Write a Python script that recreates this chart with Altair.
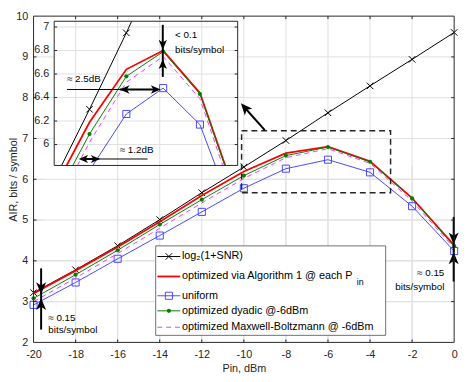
import altair as alt
import pandas as pd

FONT = "Liberation Sans"
INK = "#262626"
GRID = "#dfdfdf"

# ---------------- data ----------------
pin = [-20, -18, -16, -14, -12, -10, -8, -6, -4, -2, 0]
air_shannon = [3.22, 3.78, 4.37, 5.01, 5.67, 6.30, 6.95, 7.63, 8.29, 8.94, 9.60]
air_alg1 = [3.20, 3.76, 4.34, 4.96, 5.60, 6.19, 6.64, 6.80, 6.44, 5.54, 4.38]
air_uniform = [2.92, 3.47, 4.05, 4.62, 5.20, 5.78, 6.26, 6.48, 6.17, 5.34, 4.24]
air_dyadic = [3.08, 3.66, 4.26, 4.89, 5.50, 6.09, 6.58, 6.79, 6.43, 5.53, 4.36]
air_mb = [3.00, 3.58, 4.18, 4.80, 5.42, 6.02, 6.53, 6.75, 6.39, 5.47, 4.31]

series_keys = ["shannon", "alg1", "uniform", "dyadic", "mb"]
series_air = [air_shannon, air_alg1, air_uniform, air_dyadic, air_mb]
series_labels = ["log\u2082(1+SNR)", "optimized via Algorithm 1 @ each P", "uniform",
                 "optimized dyadic @-6dBm", "optimized Maxwell-Boltzmann @ -6dBm"]
label_subscript = "in"
series_colors = ["#000000", "#ff0000", "#4747ff", "#008000", "#ff33ff"]
series_widths = [1.0, 1.8, 1.0, 1.0, 1.0]
series_marker = ["x", None, "square", "dot", None]
series_inset_max = [-6, -2, -2, -2, -2]
series_inset_marker_max = [-8, -4, -4, -4, -4]

x_ticks = list(range(-20, 1, 2))
y_ticks = list(range(2, 11))
inset_y_ticks = [6.0, 6.2, 6.4, 6.6, 6.8, 7.0]
inset_y_labels = ["6", "6.2", "6.4", "6.6", "6.8", "7"]
inset_x_domain = [-11.92, -1.95]
inset_y_domain = [5.822, 7.049]
inset_pin_min = -12
inset_marker_min = -10

rows = []
for k, vals in zip(series_keys, series_air):
    for p, v in zip(pin, vals):
        rows.append({"series": k, "pin": p, "air": v})
df = pd.DataFrame(rows)

# ---------------- layout helpers ----------------
W, H = 428, 332            # rendered plot area
REF_W, REF_H = 428, 338    # plot area in the reference picture (origin 34, 7)
X_DOM = [-20, 0]
Y_DOM = [2, 10]
PX = (X_DOM[1] - X_DOM[0]) / W   # data units per rendered pixel
PY = (Y_DOM[1] - Y_DOM[0]) / H


def mx(px):
    return X_DOM[0] + (px - 34) * (X_DOM[1] - X_DOM[0]) / REF_W


def my(py):
    return Y_DOM[1] - (py - 7) * (Y_DOM[1] - Y_DOM[0]) / REF_H


BX0, BX1 = mx(55), mx(241.7)
BYT, BYB = my(12.3), my(161.7)
KX = (BX1 - BX0) / (inset_x_domain[1] - inset_x_domain[0])
KY = (BYT - BYB) / (inset_y_domain[1] - inset_y_domain[0])


def iy(v):
    return BYB + (v - inset_y_domain[0]) * KY


XS = alt.Scale(domain=X_DOM, nice=False, zero=False)
YS = alt.Scale(domain=Y_DOM, nice=False, zero=False)


def ex(f):
    return alt.X(f + ":Q", scale=XS, axis=None)


def ey(f):
    return alt.Y(f + ":Q", scale=YS, axis=None)


def seg(rws):
    return pd.DataFrame(rws, columns=["x0", "y0", "x1", "y1"])


def rules(d, **mark):
    return alt.Chart(d).mark_rule(**mark).encode(
        x=ex("x0"), y=ey("y0"), x2=alt.X2("x1"), y2=alt.Y2("y1"))


def rects(d, **mark):
    return alt.Chart(d).mark_rect(**mark).encode(
        x=ex("x0"), y=ey("y0"), x2=alt.X2("x1"), y2=alt.Y2("y1"))


def texts(d, **mark):
    return alt.Chart(d).mark_text(**mark).encode(
        x=ex("x"), y=ey("y"), text=alt.Text("t:N"))


X_PATH = "M-1,-1L1,1M-1,1L1,-1"
HEAD = "M0,0L0.85,2L0,1.45L-0.85,2Z"


def marker_mark(kind, color):
    if kind == "x":
        return dict(shape=X_PATH, filled=False, size=44, strokeWidth=1, color=color, opacity=1)
    if kind == "square":
        return dict(shape="square", filled=False, size=52, strokeWidth=1, color=color, opacity=1)
    return dict(shape="circle", filled=True, size=18, color=color, opacity=1)


def line_mark(i):
    m = dict(color=series_colors[i], strokeWidth=series_widths[i])
    if series_keys[i] == "mb":
        m["strokeDash"] = [5, 4]
    return m


INSET_X = f"{BX0} + (datum.pin - ({inset_x_domain[0]})) * {KX}"
INSET_Y = f"{BYB} + (datum.air - ({inset_y_domain[0]})) * {KY}"

# ---------------- axes carrier ----------------
XAX = alt.Axis(values=x_ticks, title="Pin, dBm", grid=False, ticks=False, tickSize=0,
               domain=False, labelFontSize=11, labelColor=INK, labelPadding=6,
               labelFlush=False, labelOverlap=False, labelExpr="'' + datum.value",
               titleFontSize=11, titleFontWeight="normal", titleColor=INK,
               titleY=21, titleBaseline="top", titleX=W / 2, titleAlign="center")
YAX = alt.Axis(values=y_ticks, title="AIR, bits / symbol", grid=False, ticks=False, tickSize=0,
               domain=False, labelFontSize=11, labelColor=INK, labelPadding=6,
               labelFlush=False, labelOverlap=False,
               titleFontSize=11, titleFontWeight="normal", titleColor=INK,
               titleX=-20, titleY=H / 2, titleAngle=270, titleAlign="center",
               titleBaseline="middle")
axis_layer = alt.Chart(df).mark_line(strokeOpacity=0).encode(
    x=alt.X("pin:Q", scale=XS, axis=XAX), y=alt.Y("air:Q", scale=YS, axis=YAX))

layers = [axis_layer]

# main grid
layers.append(rules(seg([(v, Y_DOM[0], v, Y_DOM[1]) for v in x_ticks[1:-1]]), color=GRID, strokeWidth=1))
layers.append(rules(seg([(X_DOM[0], v, X_DOM[1], v) for v in y_ticks[1:-1]]), color=GRID, strokeWidth=1))

# ---------------- inset ----------------
layers.append(rects(seg([(BX0, BYB, BX1, BYT)]), color="white"))
layers.append(rules(seg([(v, BYB, v, BYT) for v in x_ticks if BX0 < v < BX1]), color=GRID, strokeWidth=1))
layers.append(rules(seg([(BX0, iy(v), BX1, iy(v)) for v in inset_y_ticks]), color=GRID, strokeWidth=1))

for i, k in enumerate(series_keys):
    il = (alt.Chart(df)
          .transform_filter(f"datum.series == '{k}' && datum.pin >= {inset_pin_min} && datum.pin <= {series_inset_max[i]}")
          .transform_calculate(xm=INSET_X, ym=INSET_Y))
    layers.append(il.mark_line(clip=True, **line_mark(i)).encode(x=ex("xm"), y=ey("ym")))
    if series_marker[i]:
        ip = (alt.Chart(df)
              .transform_filter(f"datum.series == '{k}' && datum.pin >= {inset_marker_min} && datum.pin <= {series_inset_marker_max[i]}")
              .transform_calculate(xm=INSET_X, ym=INSET_Y))
        layers.append(ip.mark_point(clip=True, **marker_mark(series_marker[i], series_colors[i]))
                      .encode(x=ex("xm"), y=ey("ym")))

# covers for inset overflow
layers.append(rects(seg([(mx(44), my(248), mx(245), BYB), (mx(120), BYT, mx(152), Y_DOM[1])]), color="white"))
# redraw main grid under the cover
layers.append(rules(seg([(v, Y_DOM[0], v, BYB) for v in x_ticks[1:-1]]), color=GRID, strokeWidth=1))
layers.append(rules(seg([(X_DOM[0], v, X_DOM[1], v) for v in y_ticks[1:-1] if v < BYB]), color=GRID, strokeWidth=1))

# inset frame, ticks, labels
layers.append(rects(seg([(BX0, BYB, BX1, BYT)]), fillOpacity=0, stroke=INK, strokeWidth=1))
layers.append(rules(seg([(BX0, iy(v), BX0 + 3 * PX, iy(v)) for v in inset_y_ticks] +
                        [(BX1 - 3 * PX, iy(v), BX1, iy(v)) for v in inset_y_ticks]), color=INK, strokeWidth=1))
layers.append(texts(pd.DataFrame({"x": mx(50), "y": [iy(v) for v in inset_y_ticks], "t": inset_y_labels}),
                    align="right", baseline="middle", fontSize=11, color=INK))

# ---------------- main series ----------------
for i, k in enumerate(series_keys):
    mb = alt.Chart(df).transform_filter(alt.datum.series == k)
    layers.append(mb.mark_line(**line_mark(i)).encode(x=ex("pin"), y=ey("air")))
    if series_marker[i]:
        layers.append(mb.mark_point(**marker_mark(series_marker[i], series_colors[i]))
                      .encode(x=ex("pin"), y=ey("air")))

# ---------------- annotations ----------------
layers.append(rects(seg([(mx(245.7), my(190), mx(397.3), my(125.7))]), fillOpacity=0, stroke=INK,
                    strokeWidth=1.5, strokeDash=[6, 4]))

thin = [(68, 83, 122, 83), (83, 155, 150, 155)]
layers.append(rules(seg([(mx(a), my(b), mx(c), my(d)) for a, b, c, d in thin]), color="black", strokeWidth=1))
thick = [(121.7, 83, 160, 83), (82, 155, 100, 155), (165.5, 16, 165.5, 70),
         (41.7, 268.3, 41.7, 331.7), (461.5, 215, 461.5, 282), (269.3, 125, 249, 101.9)]
layers.append(rules(seg([(mx(a), my(b), mx(c), my(d)) for a, b, c, d in thick]), color="black", strokeWidth=2))

heads = [(121.7, 83, 270, 100), (163.3, 83, 90, 100), (80, 155, 270, 90), (101.7, 155, 90, 90),
         (165.5, 41.7, 180, 100), (165.5, 51.7, 0, 100),
         (41.7, 295, 180, 144), (41.7, 299.3, 0, 144),
         (461.5, 243.3, 180, 144), (461.5, 251.7, 0, 144),
         (245, 97.3, 318.8, 144)]
hd = pd.DataFrame({"x": [mx(h[0]) for h in heads], "y": [my(h[1]) for h in heads],
                   "a": [h[2] for h in heads], "s": [h[3] for h in heads]})
layers.append(alt.Chart(hd).mark_point(shape=HEAD, filled=True, color="black", opacity=1).encode(
    x=ex("x"), y=ey("y"), angle=alt.Angle("a:Q", scale=None), size=alt.Size("s:Q", scale=None)))

ann_left = [(178, 27, "< 0.1"), (178, 42, "bits/symbol"), (68, 72, "\u2248 2.5dB"),
            (121.7, 145.7, "\u2248 1.2dB"), (49, 320, "\u2248 0.15"), (49, 332.7, "bits/symbol")]
ann_right = [(452, 273.5, "\u2248 0.15"), (452, 287.5, "bits/symbol")]
layers.append(texts(pd.DataFrame({"x": [mx(a[0]) for a in ann_left], "y": [my(a[1]) for a in ann_left],
                                  "t": [a[2] for a in ann_left]}),
                    align="left", baseline="middle", fontSize=10, color="black"))
layers.append(texts(pd.DataFrame({"x": [mx(a[0]) for a in ann_right], "y": [my(a[1]) for a in ann_right],
                                  "t": [a[2] for a in ann_right]}),
                    align="right", baseline="middle", fontSize=10, color="black"))

# ---------------- legend ----------------
LY = [256, 276.7, 296.7, 312.3, 329.3]
layers.append(rects(seg([(mx(158.3), my(337.7), mx(392.3), my(245))]), color="white", stroke="#4d4d4d",
                    strokeWidth=0.8))
leg = pd.DataFrame({"key": series_keys, "t": series_labels, "y": [my(v) for v in LY],
                    "x0": mx(160), "x1": mx(183.3), "x": mx(171.7), "xt": mx(185)})
for i, k in enumerate(series_keys):
    lb = alt.Chart(leg).transform_filter(alt.datum.key == k)
    layers.append(lb.mark_rule(**line_mark(i)).encode(x=ex("x0"), x2=alt.X2("x1"), y=ey("y")))
    if series_marker[i]:
        layers.append(lb.mark_point(**marker_mark(series_marker[i], series_colors[i]))
                      .encode(x=ex("x"), y=ey("y")))
layers.append(alt.Chart(leg).mark_text(align="left", baseline="middle", fontSize=11, color="black").encode(
    x=ex("xt"), y=ey("y"), text=alt.Text("t:N")))
layers.append(texts(pd.DataFrame({"x": [mx(363)], "y": [my(282.5)], "t": [label_subscript]}),
                    align="left", baseline="middle", fontSize=9, color="black"))

# ---------------- frame and ticks ----------------
layers.append(rects(seg([(X_DOM[0], Y_DOM[0], X_DOM[1], Y_DOM[1])]), fillOpacity=0, stroke=INK, strokeWidth=1))
tk = ([(v, Y_DOM[0], v, Y_DOM[0] + 3 * PY) for v in x_ticks[1:-1]] +
      [(v, Y_DOM[1], v, Y_DOM[1] - 3 * PY) for v in x_ticks[1:-1]] +
      [(X_DOM[0], v, X_DOM[0] + 3 * PX, v) for v in y_ticks[1:-1]] +
      [(X_DOM[1], v, X_DOM[1] - 3 * PX, v) for v in y_ticks[1:-1]])
layers.append(rules(seg(tk), color=INK, strokeWidth=1))

chart = alt.layer(*layers).resolve_axis(x="independent", y="independent").properties(
    width=W, height=H,
    padding={"left": 26, "top": 5, "right": 9, "bottom": 36},
    autosize=alt.AutoSizeParams(type="none"),
).configure(font=FONT).configure_view(strokeWidth=0)

chart.save("out.html", embed_options={"renderer": "svg", "actions": False})
